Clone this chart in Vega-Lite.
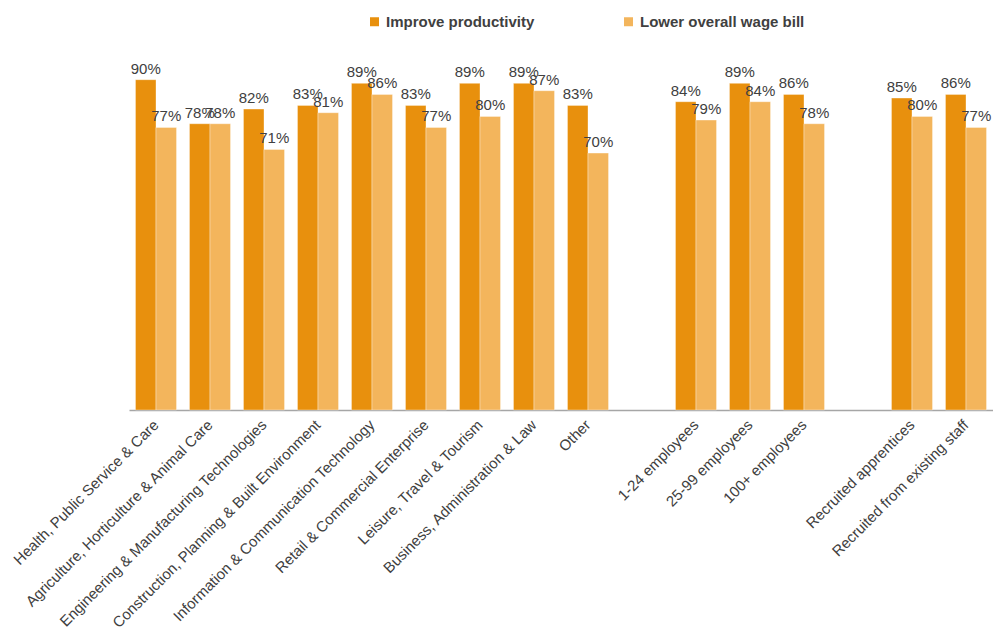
{
  "$schema": "https://vega.github.io/schema/vega-lite/v6.json",
  "width": 864,
  "height": 367,
  "autosize": {"type": "none"},
  "padding": {"left": 129, "top": 43, "right": 0, "bottom": 222},
  "background": "white",
  "config": {
    "view": {"stroke": null},
    "font": "Liberation Sans"
  },
  "data": {
    "values": [
      {"cat": "Health, Public Service & Care", "series": "Improve productivity", "value": 0.90},
      {"cat": "Health, Public Service & Care", "series": "Lower overall wage bill", "value": 0.77},
      {"cat": "Agriculture, Horticulture & Animal Care", "series": "Improve productivity", "value": 0.78},
      {"cat": "Agriculture, Horticulture & Animal Care", "series": "Lower overall wage bill", "value": 0.78},
      {"cat": "Engineering & Manufacturing Technologies", "series": "Improve productivity", "value": 0.82},
      {"cat": "Engineering & Manufacturing Technologies", "series": "Lower overall wage bill", "value": 0.71},
      {"cat": "Construction, Planning & Built Environment", "series": "Improve productivity", "value": 0.83},
      {"cat": "Construction, Planning & Built Environment", "series": "Lower overall wage bill", "value": 0.81},
      {"cat": "Information & Communication Technology", "series": "Improve productivity", "value": 0.89},
      {"cat": "Information & Communication Technology", "series": "Lower overall wage bill", "value": 0.86},
      {"cat": "Retail & Commercial Enterprise", "series": "Improve productivity", "value": 0.83},
      {"cat": "Retail & Commercial Enterprise", "series": "Lower overall wage bill", "value": 0.77},
      {"cat": "Leisure, Travel & Tourism", "series": "Improve productivity", "value": 0.89},
      {"cat": "Leisure, Travel & Tourism", "series": "Lower overall wage bill", "value": 0.80},
      {"cat": "Business, Administration & Law", "series": "Improve productivity", "value": 0.89},
      {"cat": "Business, Administration & Law", "series": "Lower overall wage bill", "value": 0.87},
      {"cat": "Other", "series": "Improve productivity", "value": 0.83},
      {"cat": "Other", "series": "Lower overall wage bill", "value": 0.70},
      {"cat": "1-24 employees", "series": "Improve productivity", "value": 0.84},
      {"cat": "1-24 employees", "series": "Lower overall wage bill", "value": 0.79},
      {"cat": "25-99 employees", "series": "Improve productivity", "value": 0.89},
      {"cat": "25-99 employees", "series": "Lower overall wage bill", "value": 0.84},
      {"cat": "100+ employees", "series": "Improve productivity", "value": 0.86},
      {"cat": "100+ employees", "series": "Lower overall wage bill", "value": 0.78},
      {"cat": "Recruited apprentices", "series": "Improve productivity", "value": 0.85},
      {"cat": "Recruited apprentices", "series": "Lower overall wage bill", "value": 0.80},
      {"cat": "Recruited from existing staff", "series": "Improve productivity", "value": 0.86},
      {"cat": "Recruited from existing staff", "series": "Lower overall wage bill", "value": 0.77}
    ]
  },
  "encoding": {
    "x": {
      "field": "cat",
      "type": "nominal",
      "scale": {
        "domain": [
          "Health, Public Service & Care",
          "Agriculture, Horticulture & Animal Care",
          "Engineering & Manufacturing Technologies",
          "Construction, Planning & Built Environment",
          "Information & Communication Technology",
          "Retail & Commercial Enterprise",
          "Leisure, Travel & Tourism",
          "Business, Administration & Law",
          "Other",
          " ",
          "1-24 employees",
          "25-99 employees",
          "100+ employees",
          "  ",
          "Recruited apprentices",
          "Recruited from existing staff"
        ],
        "paddingInner": 0.24,
        "paddingOuter": 0.12
      },
      "axis": {
        "title": null,
        "ticks": false,
        "domainColor": "#a6a6a6",
        "domainWidth": 1.5,
        "labelAngle": -45,
        "labelAlign": "right",
        "labelBaseline": "middle",
        "labelPadding": 12,
        "labelFontSize": 15,
        "labelColor": "#404040",
        "labelLimit": 400
      }
    },
    "xOffset": {
      "field": "series",
      "type": "nominal",
      "sort": ["Improve productivity", "Lower overall wage bill"]
    },
    "y": {
      "field": "value",
      "type": "quantitative",
      "scale": {"domain": [0, 1]},
      "axis": null
    }
  },
  "layer": [
    {
      "mark": {"type": "bar", "stroke": "white", "strokeOpacity": 0.35, "strokeWidth": 1},
      "encoding": {
        "color": {
          "field": "series",
          "type": "nominal",
          "scale": {
            "domain": ["Improve productivity", "Lower overall wage bill"],
            "range": ["#e8900d", "#f3b55c"]
          },
          "legend": {
            "title": null,
            "orient": "none",
            "direction": "horizontal",
            "legendX": 238,
            "legendY": -29,
            "padding": 0,
            "symbolType": "square",
            "symbolSize": 81,
            "symbolStrokeWidth": 0,
            "symbolOpacity": 1,
            "labelOffset": 4,
            "labelFontSize": 15,
            "labelFontWeight": "bold",
            "labelColor": "#404040",
            "columnPadding": 86,
            "labelLimit": 300
          }
        }
      }
    },
    {
      "mark": {
        "type": "text",
        "baseline": "alphabetic",
        "dy": -6,
        "fontSize": 15,
        "color": "#404040"
      },
      "encoding": {
        "text": {"field": "value", "type": "quantitative", "format": ".0%"}
      }
    }
  ]
}
